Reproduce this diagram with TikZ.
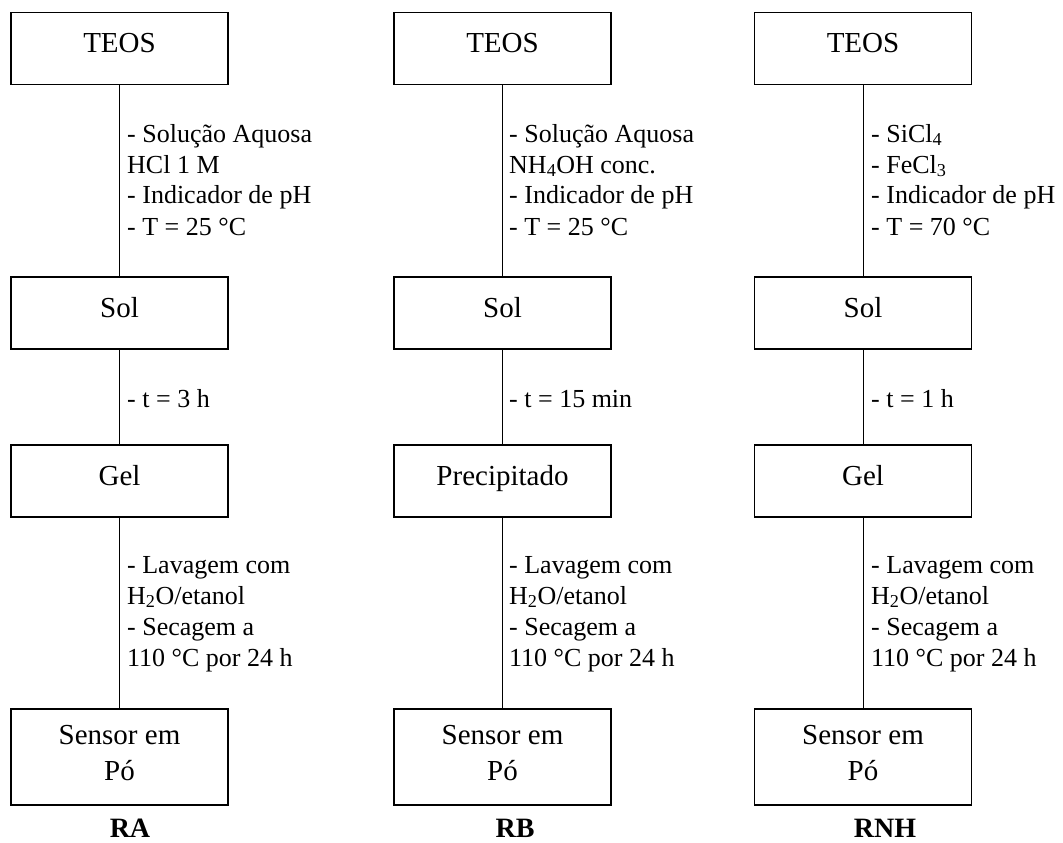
\documentclass[tikz,border=0pt]{standalone}
\usepackage{fontspec}
\setmainfont{Liberation Serif}
\newcommand\boxfont{\fontsize{29}{36}\selectfont}
\newcommand\lblfont{\fontsize{26}{31}\selectfont}
\newcommand\lblstack[1]{\vtop{\halign{##\hfil\cr#1\crcr}}}
\newcommand\ctrstack[1]{\vtop{\halign{\hfil##\hfil\cr#1\crcr}}}
\tikzset{
  stagebox/.style={draw, line width=1.5pt, minimum width=217pt, minimum height=72pt,
    inner sep=0pt, font=\boxfont, text height=20pt, text depth=12pt},
  sensorbox/.style={stagebox, minimum height=96pt, text height=20pt, text depth=46pt},
  link/.style={line width=1pt},
  cond/.style={anchor=base west, inner sep=0pt, font=\lblfont},
  route/.style={anchor=base, inner sep=0pt, font=\fontsize{28}{32}\selectfont\bfseries}
}
\begin{document}
\begin{tikzpicture}[x=1pt,y=-1pt]
\useasboundingbox (0,0) rectangle (1063,843);
% column 1
\node[stagebox] (teosA) at (119.5,48.5) {TEOS};
\node[stagebox] (solA) at (119.5,313) {Sol};
\node[stagebox] (gelA) at (119.5,481) {Gel};
\node[sensorbox] (senA) at (119.5,757) {\ctrstack{Sensor em\cr Pó}};
\node[route] (RA) at (130,837) {RA};
% column 2
\node[stagebox] (teosB) at (502.5,48.5) {TEOS};
\node[stagebox] (solB) at (502.5,313) {Sol};
\node[stagebox] (gelB) at (502.5,481) {Precipitado};
\node[sensorbox] (senB) at (502.5,757) {\ctrstack{Sensor em\cr Pó}};
\node[route] (RB) at (515,837) {RB};
% column 3
\node[stagebox] (teosC) at (863,48.5) {TEOS};
\node[stagebox] (solC) at (863,313) {Sol};
\node[stagebox] (gelC) at (863,481) {Gel};
\node[sensorbox] (senC) at (863,757) {\ctrstack{Sensor em\cr Pó}};
\node[route] (RNH) at (885,837) {RNH};
% connectors
\foreach \c in {A,B,C}{
  \draw[link] (teos\c) -- (sol\c);
  \draw[link] (sol\c) -- (gel\c);
  \draw[link] (gel\c) -- (sen\c);
}
% conditions column 1
\node[cond] (c1a) at (127,142) {\lblstack{- Solução Aquosa\cr HCl 1 M\cr - Indicador de pH\cr - T = 25 °C}};
\node[cond] (c1b) at (127,407) {- t = 3 h};
\node[cond] (c1c) at (127,573) {\lblstack{- Lavagem com\cr H\textsubscript{2}O/etanol\cr - Secagem a\cr 110 °C por 24 h}};
% conditions column 2
\node[cond] (c2a) at (509,142) {\lblstack{- Solução Aquosa\cr NH\textsubscript{4}OH conc.\cr - Indicador de pH\cr - T = 25 °C}};
\node[cond] (c2b) at (509,407) {- t = 15 min};
\node[cond] (c2c) at (509,573) {\lblstack{- Lavagem com\cr H\textsubscript{2}O/etanol\cr - Secagem a\cr 110 °C por 24 h}};
% conditions column 3
\node[cond] (c3a) at (871,142) {\lblstack{- SiCl\textsubscript{4}\cr - FeCl\textsubscript{3}\cr - Indicador de pH\cr - T = 70 °C}};
\node[cond] (c3b) at (871,407) {- t = 1 h};
\node[cond] (c3c) at (871,573) {\lblstack{- Lavagem com\cr H\textsubscript{2}O/etanol\cr - Secagem a\cr 110 °C por 24 h}};
\end{tikzpicture}
\end{document}
